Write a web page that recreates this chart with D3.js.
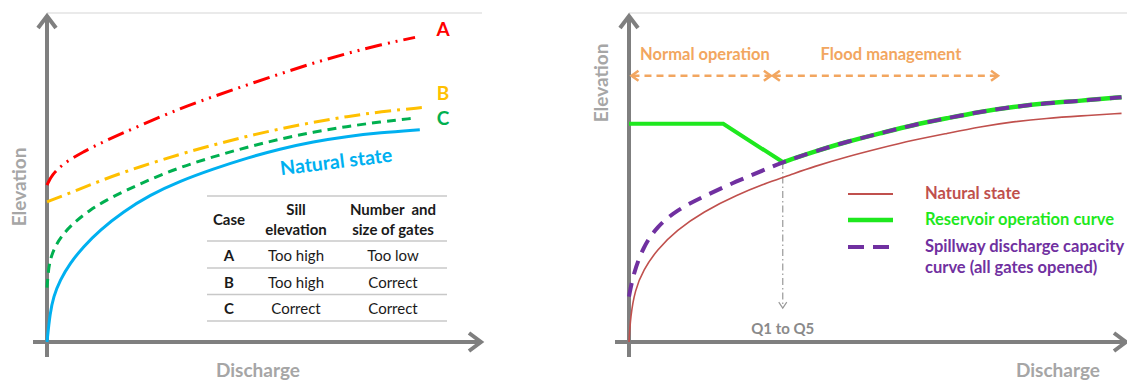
<!DOCTYPE html>
<html><head><meta charset="utf-8">
<script src="https://cdn.jsdelivr.net/npm/d3@7"></script>
<style>html,body{margin:0;padding:0;background:#fff;}svg{display:block;font-family:Lato,"Open Sans",sans-serif;}</style>
</head><body>
<svg id="c" width="1127" height="381"></svg>
<script>
// ---------- DATA (abstract units: discharge 0-100, elevation 0-100) ----------
const leftNatural = [[0,0],[0.7,8.8],[1.5,13.8],[3.0,18.8],[5.3,23.9],[8.4,29.0],[12.2,34.0],[17.6,39.6],[23.8,44.7],[30.7,48.9],[38.4,52.6],[46.1,55.9],[53.8,58.7],[61.5,60.9],[69.2,62.5],[76.9,63.6],[86.1,64.5]];
const caseC = [[0,16.5],[0.3,21.5],[0.7,24.9],[1.8,29.0],[3.8,33.0],[6.5,36.6],[9.9,40.1],[13.8,43.2],[18.4,46.2],[23.8,49.4],[30.7,53.1],[38.4,56.3],[46.1,59.2],[53.8,61.7],[61.5,63.8],[69.2,65.5],[76.9,66.9],[84.6,68.0]];
const caseB = [[0,42.6],[6.1,45.7],[13.8,49.8],[21.5,53.3],[30.7,57.1],[38.4,59.9],[46.1,62.5],[53.8,64.8],[61.5,66.8],[69.2,68.5],[76.9,70.0],[86.9,71.3]];
const caseA = [[0,47.7],[1.1,50.8],[3.8,54.3],[8.4,57.8],[13.0,60.9],[21.5,65.8],[30.7,71.0],[38.4,74.6],[46.1,78.1],[53.8,81.5],[61.5,84.8],[69.2,87.7],[76.9,90.3],[85.0,92.6]];
const caseLabels = ["A","B","C"];
const natLabel = "Natural state";
const tableHeader = [["Case"],["Sill","elevation"],["Number  and","size of gates"]];
const sillElevation = ["Too high","Too high","Correct"];
const gatesSize = ["Too low","Correct","Correct"];

const rightNatural = [[0,0],[0.3,7.7],[1.2,15.8],[2.9,21.9],[5.6,28.0],[9.6,34.0],[15.0,39.6],[21.7,44.7],[28.4,48.7],[32.5,50.8],[37.2,53.3],[43.9,56.3],[50.6,58.9],[57.3,61.4],[64.1,63.4],[70.8,65.4],[77.5,67.0],[84.2,68.0],[90.9,68.7],[99.3,69.5]];
const spillway = [[0,13.8],[0.9,20.9],[2.9,29.0],[5.6,35.0],[9.6,40.1],[15.0,44.2],[21.7,48.9],[28.4,53.0],[31.0,54.7],[37.2,57.8],[43.9,60.9],[50.6,63.4],[57.3,66.0],[64.1,68.0],[70.8,70.0],[77.5,71.5],[84.2,72.6],[90.9,73.3],[99.3,74.4]];
const reservoirNormal = [[0,66.3],[19.0,66.3],[31.0,54.7]];
const qMark = 31.0;      // Q1 to Q5 discharge
const qLow = 10.3;
const phases = [{name:"Normal operation", from:0.5, to:28.6},{name:"Flood management", from:29.0, to:74.4}];
const phaseLevel = 80.9;
const legendItems = ["Natural state","Reservoir operation curve",["Spillway discharge capacity","curve (all gates opened)"]];

// ---------- DRAWING ----------
const svg = d3.select("#c");
const xL = d3.scaleLinear([0,100],[47,480]);
const xR = d3.scaleLinear([0,100],[629,1125]);
const y = d3.scaleLinear([0,100],[342,13]);
const axisCol = "#7f7f7f", labCol = "#a6a6a6";

function axes(x, xEnd, elevX, elevY, disX){
  svg.append("line").attr("x1",x(0)).attr("x2",xEnd).attr("y1",13).attr("y2",13)
    .attr("stroke","#e3e3e3").attr("stroke-width",1.5);
  const g = svg.append("g").attr("stroke",axisCol).attr("stroke-width",4).attr("fill","none");
  g.append("line").attr("x1",x(0)).attr("x2",x(0)).attr("y1",357).attr("y2",16);
  g.append("line").attr("x1",x(0)-14).attr("x2",xEnd-1).attr("y1",y(0)).attr("y2",y(0));
  g.append("path").attr("d",`M${x(0)-9},${28}L${x(0)},${16}L${x(0)+9},${28}`);
  g.append("path").attr("d",`M${xEnd-13},${y(0)-9}L${xEnd-1},${y(0)}L${xEnd-13},${y(0)+9}`);
  svg.append("text").attr("transform",`translate(${elevX},${elevY}) rotate(-90)`)
    .attr("text-anchor","middle").attr("dominant-baseline","central")
    .attr("font-size",19).attr("font-weight","bold").attr("fill",labCol).text("Elevation");
  svg.append("text").attr("x",disX).attr("y",369).attr("text-anchor","middle").attr("dominant-baseline","central")
    .attr("font-size",19).attr("font-weight","bold").attr("fill",labCol).text("Discharge");
}

axes(xL, 482, 18, 187, 258);
axes(xR, 1127, 600, 83, 1058);

// Left panel curves
const lineL = d3.line().x(d=>xL(d[0])).y(d=>y(d[1])).curve(d3.curveBasis);
svg.append("path").attr("d",lineL(caseA)).attr("fill","none").attr("stroke","#ff0000").attr("stroke-width",3)
  .attr("stroke-dasharray","17,6,2,6,2,6");
svg.append("path").attr("d",lineL(caseB)).attr("fill","none").attr("stroke","#ffc000").attr("stroke-width",3)
  .attr("stroke-dasharray","16,6,3,6");
svg.append("path").attr("d",lineL(caseC)).attr("fill","none").attr("stroke","#00b050").attr("stroke-width",3)
  .attr("stroke-dasharray","9,6");
svg.append("path").attr("d",lineL(leftNatural)).attr("fill","none").attr("stroke","#00b0f0").attr("stroke-width",3);

const caseColors = ["#ff0000","#ffc000","#00b050"];
const caseY = [28, 92, 117];
svg.selectAll("text.case").data(caseLabels).join("text").attr("class","case")
  .attr("x",443).attr("y",(d,i)=>caseY[i]).attr("text-anchor","middle").attr("dominant-baseline","central")
  .attr("font-size",19).attr("font-weight","bold").attr("fill",(d,i)=>caseColors[i]).text(d=>d);

svg.append("text").attr("transform","translate(336,161) rotate(-7)").attr("text-anchor","middle")
  .attr("dominant-baseline","central").attr("font-size",19.5).attr("font-weight","bold").attr("fill","#00b0f0").text(natLabel);

// Table
const tX0 = 207, tX1 = 447, colX = [229,296,393];
const rowLines = [196,241,268,294.5,321];
svg.selectAll("line.tl").data(rowLines).join("line").attr("class","tl")
  .attr("x1",tX0).attr("x2",tX1).attr("y1",d=>d).attr("y2",d=>d).attr("stroke","#c8c8c8").attr("stroke-width",1.5);
tableHeader.forEach((lines,i)=>{
  lines.forEach((t,j)=>{
    const yy = lines.length===1 ? 219 : (j===0?209:229);
    svg.append("text").attr("x",colX[i]).attr("y",yy).attr("text-anchor","middle").attr("dominant-baseline","central")
      .attr("font-size",15).attr("font-weight","bold").attr("fill","#1a1a1a").style("white-space","pre").text(t);
  });
});
const rowY = [255,281.5,307.5];
caseLabels.forEach((c,i)=>{
  [c, sillElevation[i], gatesSize[i]].forEach((t,k)=>{
    svg.append("text").attr("x",colX[k]).attr("y",rowY[i]).attr("text-anchor","middle").attr("dominant-baseline","central")
      .attr("font-size",15).attr("font-weight",k===0?"bold":"normal").attr("fill","#1a1a1a").text(t);
  });
});

// Right panel
const lineR = d3.line().x(d=>xR(d[0])).y(d=>y(d[1])).curve(d3.curveBasis);
const lineRLin = d3.line().x(d=>xR(d[0])).y(d=>y(d[1]));
const green = "#1ee81e", purple = "#7030a0", nat = "#c0504d", orange = "#f2a660";

phases.forEach((p,i)=>{
  const x1 = xR(p.from), x2 = xR(p.to), yy = y(phaseLevel);
  svg.append("line").attr("x1",x1+1).attr("x2",x2-1).attr("y1",yy).attr("y2",yy)
    .attr("stroke",orange).attr("stroke-width",2.5).attr("stroke-dasharray","7,5");
  svg.append("path").attr("d",`M${x1+7},${yy-5}L${x1},${yy}L${x1+7},${yy+5}`).attr("fill","none").attr("stroke",orange).attr("stroke-width",2.5);
  svg.append("path").attr("d",`M${x2-7},${yy-5}L${x2},${yy}L${x2-7},${yy+5}`).attr("fill","none").attr("stroke",orange).attr("stroke-width",2.5);
  svg.append("text").attr("x",i===0?705:891).attr("y",54).attr("text-anchor","middle")
    .attr("dominant-baseline","central").attr("font-size",16.5).attr("font-weight","bold").attr("fill",orange).text(p.name);
});

// Q marker
const qx = xR(qMark);
const qTop = y(spillway.find(d=>d[0]===qMark)[1]);
svg.append("line").attr("x1",qx).attr("x2",qx).attr("y1",qTop).attr("y2",y(qLow))
  .attr("stroke","#999").attr("stroke-width",1.2).attr("stroke-dasharray","7,3,1.5,3");
svg.append("path").attr("d",`M${qx-4},${y(qLow)-6}L${qx},${y(qLow)}L${qx+4},${y(qLow)-6}`).attr("fill","none").attr("stroke","#999").attr("stroke-width",1.2);
svg.append("text").attr("x",qx).attr("y",328).attr("text-anchor","middle").attr("dominant-baseline","central")
  .attr("font-size",15).attr("font-weight","bold").attr("fill","#8a8a8a").text("Q1 to Q5");

svg.append("path").attr("d",lineR(rightNatural)).attr("fill","none").attr("stroke",nat).attr("stroke-width",1.6);
svg.append("clipPath").attr("id","flood").append("rect").attr("x",qx).attr("y",0).attr("width",1127-qx).attr("height",381);
svg.append("path").attr("d",lineR(spillway)).attr("fill","none").attr("stroke",green).attr("stroke-width",4.5).attr("clip-path","url(#flood)");
svg.append("path").attr("d",lineRLin(reservoirNormal)).attr("fill","none").attr("stroke",green).attr("stroke-width",4);
svg.append("path").attr("d",lineR(spillway)).attr("fill","none").attr("stroke",purple).attr("stroke-width",4).attr("stroke-dasharray","14,9");

// legend
const legY = [194,220,247], legCols = [nat, green, purple];
legendItems.forEach((t,i)=>{
  const l = svg.append("line").attr("x1",848).attr("x2",893).attr("y1",legY[i]).attr("y2",legY[i]).attr("stroke",legCols[i]);
  if(i===0) l.attr("stroke-width",1.8);
  if(i===1) l.attr("stroke-width",4.5);
  if(i===2) l.attr("stroke-width",4).attr("stroke-dasharray","16,9");
  const lines = Array.isArray(t)?t:[t];
  lines.forEach((s,j)=>{
    svg.append("text").attr("x",925).attr("y",legY[i]-1+j*21).attr("dominant-baseline","central")
      .attr("font-size",16.5).attr("font-weight","bold").attr("fill",legCols[i]).text(s);
  });
});
</script>
</body></html>
